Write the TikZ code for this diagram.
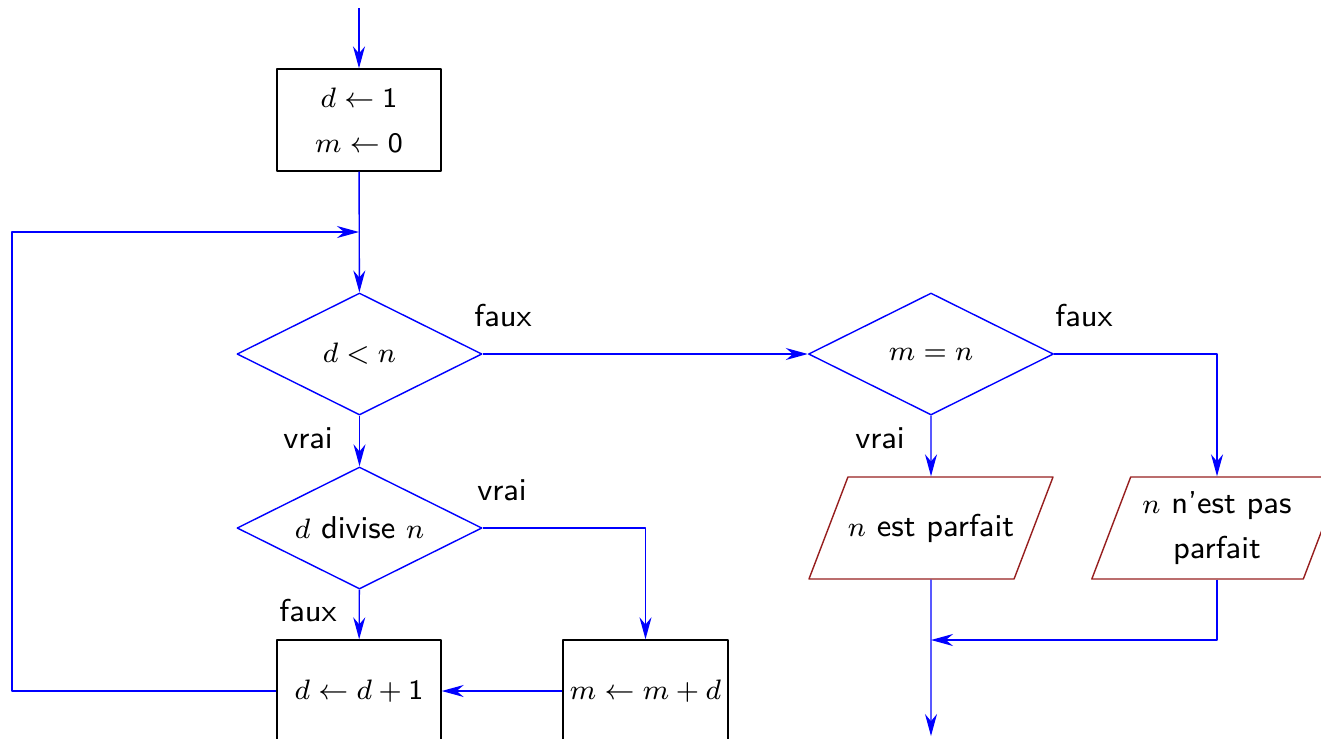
\documentclass[tikz,border=0pt]{standalone}
\usetikzlibrary{shapes.geometric,arrows.meta}
\definecolor{bordeaux}{RGB}{150,30,30}
\DeclareMathSizes{9}{8}{6}{5}

\begin{document}
\begin{tikzpicture}[font=\small\sffamily, line join=round, >={Stealth[length=2.2mm,width=1.2mm]},
	instr/.style={draw, minimum width=1.64cm, minimum height=1.02cm, inner xsep=2pt, align=center},
	test/.style={draw=blue, diamond, aspect=2, minimum width=2.45cm, minimum height=1.22cm, inner sep=0pt},
	sortie/.style={draw=bordeaux, trapezium, trapezium left angle=68, trapezium right angle=112,
		trapezium stretches body, minimum width=2.46cm, minimum height=1.02cm, align=center},
	fleche/.style={->, blue}]
	\useasboundingbox (0,0) rectangle (13.21,-7.38);
	% colonne de gauche
	\coordinate (haut) at (3.59,-0.08);
	\node[instr] (init) at (3.59,-1.20) {$d\leftarrow\mathsf{1}$\\[0.6mm]$m\leftarrow\mathsf{0}$};
	\coordinate (retour) at (3.59,-2.32);
	\coordinate (coin) at (0.12,-2.32);
	\node[test] (t1) at (3.595,-3.54) {$d<n$};
	\node[test] (t2) at (3.595,-5.28) {$d$ divise $n$};
	\node[instr] (incd) at (3.59,-6.91) {$d\leftarrow d+\mathsf{1}$};
	\node[instr] (incm) at (6.455,-6.91) {$m\leftarrow m+d$};
	% colonne de droite
	\node[test] (t3) at (9.31,-3.54) {$m=n$};
	\node[sortie, inner ysep=3.4mm, inner xsep=0pt, minimum width=2.2cm] (oui) at (9.31,-5.28) {$n$ est parfait};
	\node[sortie] (non) at (12.17,-5.28) {$n$ n'est pas\\[0.6mm]parfait};
	\coordinate (jonction) at (9.31,-6.40);
	\coordinate (fin) at (9.31,-7.36);
	% etiquettes
	\node (faux1) at (5.03,-3.16) {faux};
	\node (vrai1) at (3.08,-4.38) {vrai};
	\node (vrai2) at (5.02,-4.90) {vrai};
	\node (faux2) at (3.08,-6.11) {faux};
	\node (faux3) at (10.84,-3.16) {faux};
	\node (vrai3) at (8.80,-4.38) {vrai};
	% fleches
	\draw[fleche] (haut) -- (init);
	\draw[fleche] (init) -- (t1);
	\draw[fleche] (t1) -- (t2);
	\draw[fleche] (t2) -- (incd);
	\draw[fleche] (t2.east) -| (incm.north);
	\draw[fleche] (incm) -- (incd);
	\draw[fleche] (incd.west) -| (coin) -- (retour);
	\draw[fleche] (t1) -- (t3);
	\draw[fleche] (t3) -- (oui);
	\draw[fleche] (t3.east) -| (non.north);
	\draw[fleche] (non.south) |- (jonction);
	\draw[fleche] (oui) -- (fin);
\end{tikzpicture}
\end{document}
